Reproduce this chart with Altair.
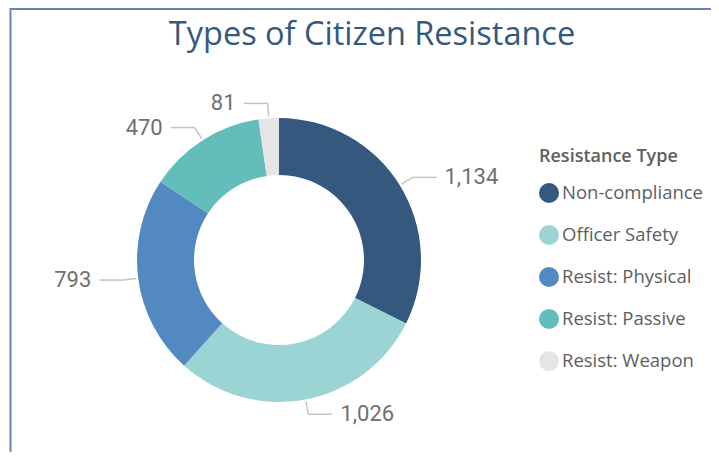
import altair as alt
import pandas as pd

categories = ["Non-compliance", "Officer Safety", "Resist: Physical", "Resist: Passive", "Resist: Weapon"]
values = [1134, 1026, 793, 470, 81]
colors = ["#34587e", "#9ad4d4", "#5289c0", "#62bdbb", "#e5e5e5"]
title_text = "Types of Citizen Resistance"
legend_title = "Resistance Type"

# layout constants (pixels, chart coordinates)
CX, CY = 271, 252
R_OUT, R_IN = 142, 85
R_LEAD0, R_LEAD1 = 144, 157
HLEN, GAP = 24, 8

df = pd.DataFrame({"category": categories, "value": values, "order": list(range(len(values)))})

base = alt.Chart(df).transform_joinaggregate(
    total="sum(value)"
).transform_window(
    cum="sum(value)", sort=[alt.SortField("order")], frame=[None, 0]
).transform_calculate(
    mid="(datum.cum - datum.value / 2) / datum.total * 2 * PI",
).transform_calculate(
    side="sin(datum.mid) >= 0 ? 1 : -1",
    x0=f"{CX} + {R_LEAD0} * sin(datum.mid)",
    y0=f"{CY} - {R_LEAD0} * cos(datum.mid)",
    x1=f"{CX} + {R_LEAD1} * sin(datum.mid)",
    y1=f"{CY} - {R_LEAD1} * cos(datum.mid)",
).transform_calculate(
    x2=f"datum.x1 + datum.side * {HLEN}",
    lx=f"datum.x1 + datum.side * {HLEN + GAP}",
)

arcs = alt.Chart(df).mark_arc(
    innerRadius=R_IN, outerRadius=R_OUT, x=CX, y=CY, stroke=None
).encode(
    theta=alt.Theta("value:Q", stack=True),
    order=alt.Order("order:Q"),
    color=alt.Color(
        "category:N",
        scale=alt.Scale(domain=categories, range=colors),
        legend=alt.Legend(
            title=legend_title,
            orient="none",
            legendX=531,
            legendY=140,
            symbolType="circle",
            symbolSize=400,
            symbolStrokeWidth=0,
            rowPadding=22,
            labelOffset=3,
            titlePadding=17,
            padding=0,
            titleFont="Open Sans",
            titleFontSize=18,
            titleFontWeight=600,
            titleColor="#605e5c",
            labelFont="Open Sans",
            labelFontSize=18.5,
            labelColor="#605e5c",
            labelLimit=300,
        ),
    ),
)

seg1 = base.mark_rule(color="#c4c4c4", strokeWidth=1.5).encode(
    x=alt.X("x0:Q", scale=None, axis=None),
    y=alt.Y("y0:Q", scale=None, axis=None),
    x2="x1:Q",
    y2="y1:Q",
)
seg2 = base.mark_rule(color="#c4c4c4", strokeWidth=1.5).encode(
    x=alt.X("x1:Q", scale=None, axis=None),
    y=alt.Y("y1:Q", scale=None, axis=None),
    x2="x2:Q",
    y2="y1:Q",
)

label_kw = dict(font="Roboto", fontSize=22, color="#707070", baseline="middle")
labels_r = base.transform_filter("datum.side > 0").mark_text(align="left", **label_kw).encode(
    x=alt.X("lx:Q", scale=None, axis=None),
    y=alt.Y("y1:Q", scale=None, axis=None),
    text=alt.Text("value:Q", format=","),
)
labels_l = base.transform_filter("datum.side < 0").mark_text(align="right", **label_kw).encode(
    x=alt.X("lx:Q", scale=None, axis=None),
    y=alt.Y("y1:Q", scale=None, axis=None),
    text=alt.Text("value:Q", format=","),
)

title = alt.Chart(pd.DataFrame({"t": [title_text]})).mark_text(
    font="Open Sans", fontSize=32.5, color="#34587e", align="center", baseline="alphabetic"
).encode(text="t:N", x=alt.value(364), y=alt.value(37))

border_df = pd.DataFrame({"b": [0]})
border_left = alt.Chart(border_df).mark_rule(color="#6485b5", strokeWidth=2).encode(
    x=alt.value(2.5), y=alt.value(0), y2=alt.value(444)
)
border_top = alt.Chart(border_df).mark_rule(color="#6485b5", strokeWidth=2).encode(
    x=alt.value(2.5), x2=alt.value(703), y=alt.value(1)
)

chart = alt.layer(
    arcs, seg1, seg2, labels_r, labels_l, title, border_left, border_top
).properties(
    width=703, height=444, padding=0, autosize="none"
).configure_view(stroke=None)

chart.save("out.html", embed_options={"renderer": "svg", "actions": False})
